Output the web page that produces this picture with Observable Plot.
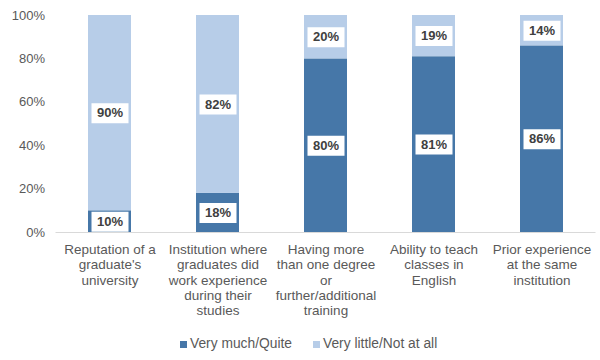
<!DOCTYPE html>
<html>
<head>
<meta charset="utf-8">
<script src="https://cdn.jsdelivr.net/npm/d3@7"></script>
<script src="https://cdn.jsdelivr.net/npm/@observablehq/plot@0.6"></script>
<style>
  body { margin: 0; background: #fff; font-family: "Liberation Sans", Arial, sans-serif; }
  #wrap { position: relative; width: 600px; height: 360px; }
  #legend { position: absolute; top: 335px; left: 0; width: 600px; height: 18px; font-size: 13.8px; color: #595959; }
  .item { position: absolute; top: 0; line-height: 18px; white-space: nowrap; }
  .sw { display: inline-block; width: 7px; height: 7px; margin-right: 3px; vertical-align: 0px; }
</style>
</head>
<body>
<div id="wrap"></div>
<script>
const categories = [
  "Reputation of a\ngraduate's\nuniversity",
  "Institution where\ngraduates did\nwork experience\nduring their\nstudies",
  "Having more\nthan one degree\nor\nfurther/additional\ntraining",
  "Ability to teach\nclasses in\nEnglish",
  "Prior experience\nat the same\ninstitution"
];
const seriesNames = ["Very much/Quite", "Very little/Not at all"];
const veryMuch = [10, 18, 80, 81, 86];
const veryLittle = [90, 82, 20, 19, 14];
const colors = ["#4677a8", "#b7cde8"];
const yTicks = [0, 20, 40, 60, 80, 100];

const data = [];
categories.forEach((c, i) => {
  data.push({category: c, series: seriesNames[0], value: veryMuch[i]});
  data.push({category: c, series: seriesNames[1], value: veryLittle[i]});
});

const labelBox = {
  draw(ctx) { ctx.rect(-18.5, -10, 37, 20); }
};

const stackOpts = {x: "category", y: "value", z: "series", order: null};

const chart = Plot.plot({
  width: 600,
  height: 330,
  marginTop: 15,
  marginBottom: 98,
  marginLeft: 55.5,
  marginRight: 4.5,
  style: {fontFamily: "'Liberation Sans', Arial, sans-serif", color: "#595959", background: "#fff"},
  x: {domain: categories, paddingInner: 0.6, paddingOuter: 0.3, label: null},
  y: {domain: [0, 100], label: null},
  color: {domain: seriesNames, range: colors},
  marks: [
    Plot.barY(data, Plot.stackY({...stackOpts, fill: "series", insetTop: 0, insetBottom: 0})),
    Plot.ruleY([0], {stroke: "#d9d9d9", strokeWidth: 1}),
    Plot.dot(data, Plot.stackY({...stackOpts, symbol: labelBox, fill: "white", stroke: null, r: 5})),
    Plot.text(data, Plot.stackY({...stackOpts, text: d => d.value + "%", fill: "#404040", fontSize: 13, fontWeight: "bold"})),
    Plot.axisY(yTicks, {tickSize: 0, tickPadding: 11, fontSize: 13, tickFormat: d => d + "%"}),
    Plot.axisX({tickSize: 0, tickPadding: 10.5, fontSize: 13.5, lineHeight: 1.14})
  ]
});

const wrap = document.getElementById("wrap");
wrap.appendChild(chart);

const legend = document.createElement("div");
legend.id = "legend";
const lefts = [180, 313];
seriesNames.forEach((name, i) => {
  const it = document.createElement("span");
  it.className = "item";
  it.style.left = lefts[i] + "px";
  const sw = document.createElement("span");
  sw.className = "sw";
  sw.style.background = colors[i];
  it.appendChild(sw);
  it.appendChild(document.createTextNode(name));
  legend.appendChild(it);
});
wrap.appendChild(legend);
</script>
</body>
</html>
